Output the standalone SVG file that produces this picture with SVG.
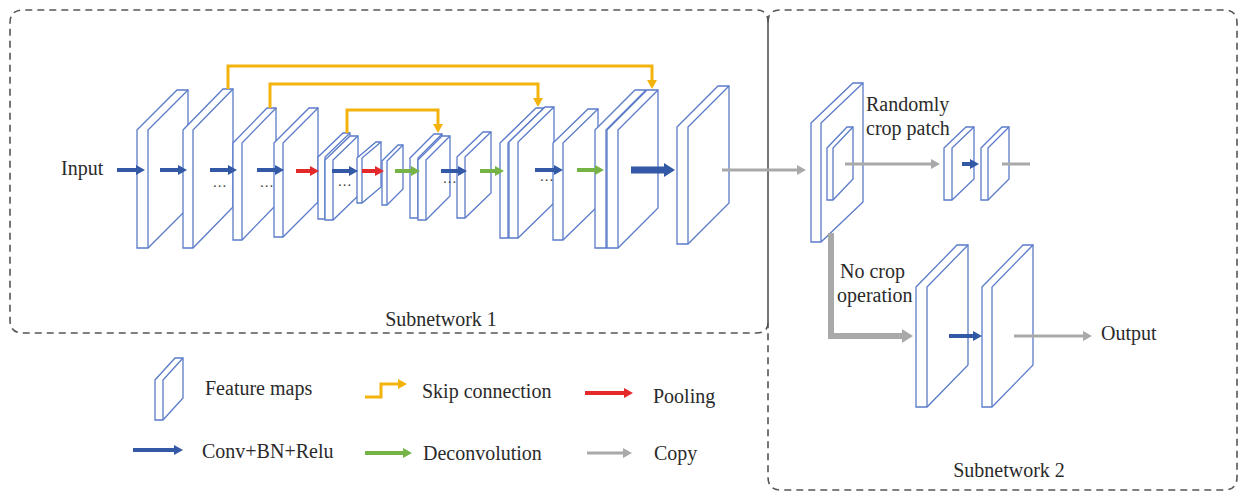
<svg xmlns="http://www.w3.org/2000/svg" width="1239" height="492" viewBox="0 0 1239 492">
  <style>
    .fm { fill: #ffffff; stroke: #5a7bc9; stroke-width: 1.3; stroke-linejoin: miter; }
    .fmi { fill: none; stroke: #5a7bc9; stroke-width: 1.3; }
    .box { fill: none; stroke: #555555; stroke-width: 1.6; stroke-dasharray: 7 5; }
    .edge { fill: none; stroke: #666666; stroke-width: 1.8; }
    .conv { fill: none; stroke: #3258a6; stroke-width: 4; marker-end: url(#hBlue); }
    .pool { fill: none; stroke: #e3292a; stroke-width: 4; marker-end: url(#hRed); }
    .deconv { fill: none; stroke: #76b347; stroke-width: 4; marker-end: url(#hGreen); }
    .copy { fill: none; stroke: #a9a9a9; stroke-width: 3; marker-end: url(#hGray); }
    .skip { fill: none; stroke: #f3b30c; stroke-width: 3; stroke-linejoin: miter; marker-end: url(#hGold); }
    .lbl { font-family: "Liberation Serif", "Times New Roman", serif; font-size: 20px; fill: #2a2a2a; }
    .dots { font-family: "Liberation Serif", serif; font-size: 15px; letter-spacing: 1px; fill: #444444; text-anchor: middle; }
  </style>
  <defs>
    <marker id="hBlue" markerUnits="userSpaceOnUse" markerWidth="10" markerHeight="10" refX="4" refY="5" orient="auto"><path d="M0,0 L9,5 L0,10 Z" fill="#3258a6"/></marker>
    <marker id="hBlueL" markerUnits="userSpaceOnUse" markerWidth="12" markerHeight="14" refX="4" refY="7" orient="auto"><path d="M0,0 L11,7 L0,14 Z" fill="#3258a6"/></marker>
    <marker id="hRed" markerUnits="userSpaceOnUse" markerWidth="10" markerHeight="10" refX="4" refY="5" orient="auto"><path d="M0,0 L9,5 L0,10 Z" fill="#e3292a"/></marker>
    <marker id="hGreen" markerUnits="userSpaceOnUse" markerWidth="10" markerHeight="10" refX="4" refY="5" orient="auto"><path d="M0,0 L9,5 L0,10 Z" fill="#76b347"/></marker>
    <marker id="hGray" markerUnits="userSpaceOnUse" markerWidth="10" markerHeight="10" refX="4" refY="5" orient="auto"><path d="M0,0 L9,5 L0,10 Z" fill="#a9a9a9"/></marker>
    <marker id="hGrayL" markerUnits="userSpaceOnUse" markerWidth="12" markerHeight="14" refX="4" refY="7" orient="auto"><path d="M0,0 L11,7 L0,14 Z" fill="#a9a9a9"/></marker>
    <marker id="hGold" markerUnits="userSpaceOnUse" markerWidth="10" markerHeight="10" refX="4" refY="5" orient="auto"><path d="M0,0 L9,5 L0,10 Z" fill="#f3b30c"/></marker>
  </defs>

  <rect width="1239" height="492" fill="#ffffff"/>

  <!-- frames of the two sub-networks -->
  <g id="frames">
    <path class="box" d="M768,323 Q768,333 756,333 H23 Q10,333 10,320 V23 Q10,10 23,10 H756 Q768,10 768,22"/>
    <path class="box" d="M768,22 Q768,10 780,10 H1224 Q1237,10 1237,23 V477 Q1237,490 1224,490 H781 Q768,490 768,477 V323"/>
    <path class="edge" d="M768,22 V323"/>
    <text class="lbl" x="441" y="326" text-anchor="middle">Subnetwork 1</text>
    <text class="lbl" x="1009" y="477" text-anchor="middle">Subnetwork 2</text>
  </g>

  <!-- feature maps of subnetwork 1 -->
  <g id="fm-a"><path class="fm" d="M137,130 L177,90 H188 V208 L148,248 H137 Z"/><path class="fmi" d="M148,248 V130 L188,90"/></g>
  <g id="fm-b"><path class="fm" d="M183,130 L223,89 H233 V207 L193,248 H183 Z"/><path class="fmi" d="M193,248 V130 L233,89"/></g>
  <g id="fm-c"><path class="fm" d="M233,143 L267,108 H276 V205 L242,240 H233 Z"/><path class="fmi" d="M242,240 V143 L276,108"/></g>
  <g id="fm-d"><path class="fm" d="M274,143 L309,108 H318 V202 L283,237 H274 Z"/><path class="fmi" d="M283,237 V143 L318,108"/></g>
  <g id="fm-e">
    <path class="fm" d="M318,157 L343,133 H350 V195 L325,219 H318 Z"/><path class="fmi" d="M325,219 V157 L350,133"/>
    <path class="fm" d="M325,160 L350,136 H358 V196 L333,220 H325 Z"/><path class="fmi" d="M333,220 V160 L358,136"/>
  </g>
  <g id="fm-f"><path class="fm" d="M357,158 L376,142 H381 V187 L362,203 H357 Z"/><path class="fmi" d="M362,203 V158 L381,142"/></g>
  <g id="fm-g"><path class="fm" d="M382,161 L398,145 H403 V189 L387,205 H382 Z"/><path class="fmi" d="M387,205 V161 L403,145"/></g>
  <g id="fm-h">
    <path class="fm" d="M410,158 L434,134 H442 V194 L418,218 H410 Z"/><path class="fmi" d="M418,218 V158 L442,134"/>
    <path class="fm" d="M418,160 L442,136 H450 V196 L426,220 H418 Z"/><path class="fmi" d="M426,220 V160 L450,136"/>
  </g>
  <g id="fm-i"><path class="fm" d="M457,157 L483,132 H491 V193 L465,218 H457 Z"/><path class="fmi" d="M465,218 V157 L491,132"/></g>
  <g id="fm-j">
    <path class="fm" d="M500,143 L536,108 H544 V203 L508,238 H500 Z"/><path class="fmi" d="M508,238 V143 L544,108"/>
    <path class="fm" d="M509,142 L545,107 H554 V203 L518,238 H509 Z"/><path class="fmi" d="M518,238 V142 L554,107"/>
  </g>
  <g id="fm-k"><path class="fm" d="M553,143 L588,109 H598 V206 L563,240 H553 Z"/><path class="fmi" d="M563,240 V143 L598,109"/></g>
  <g id="fm-l">
    <path class="fm" d="M595,130 L635,90 H646 V208 L606,248 H595 Z"/><path class="fmi" d="M606,248 V130 L646,90"/>
    <path class="fm" d="M607,130 L647,90 H658 V208 L618,248 H607 Z"/><path class="fmi" d="M618,248 V130 L658,90"/>
  </g>
  <g id="fm-m"><path class="fm" d="M677,127 L718,86 H729 V203 L688,244 H677 Z"/><path class="fmi" d="M688,244 V127 L729,86"/></g>

  <!-- feature maps of subnetwork 2 -->
  <g id="fm-n">
    <path class="fm" d="M811,123 L853,83 H863 V202 L821,242 H811 Z"/><path class="fmi" d="M821,242 V123 L863,83"/>
    <path class="fm" d="M827,148 L847,127 H853 V179 L833,200 H827 Z"/><path class="fmi" d="M833,200 V148 L853,127"/>
  </g>
  <g id="fm-o"><path class="fm" d="M944,148 L966,127 H974 V179 L952,200 H944 Z"/><path class="fmi" d="M952,200 V148 L974,127"/></g>
  <g id="fm-p"><path class="fm" d="M981,148 L1002,127 H1009 V179 L988,200 H981 Z"/><path class="fmi" d="M988,200 V148 L1009,127"/></g>
  <g id="fm-q"><path class="fm" d="M916,287 L957,245 H968 V365 L927,407 H916 Z"/><path class="fmi" d="M927,407 V287 L968,245"/></g>
  <g id="fm-r"><path class="fm" d="M982,287 L1023,245 H1033 V365 L992,407 H982 Z"/><path class="fmi" d="M992,407 V287 L1033,245"/></g>

  <!-- connectors -->
  <g id="connectors">
    <path class="conv" d="M117,170 H140"/>
    <path class="conv" d="M160,170 H182"/>
    <path class="conv" d="M210,170 H232"/>
    <path class="conv" d="M257,170 H279"/>
    <path class="pool" d="M296,171 H314"/>
    <path class="conv" d="M332,171 H353"/>
    <path class="pool" d="M362,171 H379"/>
    <path class="deconv" d="M395,171 H415"/>
    <path class="conv" d="M441,171 H462"/>
    <path class="deconv" d="M480,171 H499"/>
    <path class="conv" d="M535,170 H558"/>
    <path class="deconv" d="M577,170 H599"/>
    <path d="M631,170 H668" fill="none" stroke="#3258a6" stroke-width="7" marker-end="url(#hBlueL)"/>
    <path class="copy" d="M722,170 H801"/>

    <path class="skip" d="M228,89 V66 H652 V84"/>
    <path class="skip" d="M270,108 V84 H538 V102"/>
    <path class="skip" d="M347,133 V110 H438 V128"/>

    <path class="copy" d="M845,164 H935"/>
    <path class="conv" d="M962,164 H974" stroke-width="3"/>
    <path d="M1002,164 H1030" fill="none" stroke="#a9a9a9" stroke-width="3"/>
    <path d="M831,233 V336 H906" fill="none" stroke="#a9a9a9" stroke-width="6" stroke-linejoin="miter" marker-end="url(#hGrayL)"/>
    <path class="conv" d="M949,336 H977"/>
    <path class="copy" d="M1014,336 H1087"/>
  </g>

  <!-- labels -->
  <g id="labels">
    <text class="lbl" x="61" y="175">Input</text>
    <text class="dots" x="220" y="187">...</text>
    <text class="dots" x="267" y="187">...</text>
    <text class="dots" x="345" y="186">...</text>
    <text class="dots" x="450" y="183">...</text>
    <text class="dots" x="547" y="181">...</text>
    <text class="lbl" x="866" y="111">Randomly</text>
    <text class="lbl" x="866" y="135">crop patch</text>
    <text class="lbl" x="840" y="278">No crop</text>
    <text class="lbl" x="837" y="302">operation</text>
    <text class="lbl" x="1101" y="340">Output</text>
  </g>

  <!-- legend -->
  <g id="legend">
    <g id="legend-fm"><path class="fm" d="M155,380 L175,358 H183 V398 L163,420 H155 Z"/><path class="fmi" d="M163,420 V380 L183,358"/></g>
    <text class="lbl" x="205" y="395">Feature maps</text>
    <path class="skip" d="M365,397 H381 V384 H402"/>
    <text class="lbl" x="422" y="398">Skip connection</text>
    <path class="pool" d="M585,393 H628"/>
    <text class="lbl" x="653" y="403">Pooling</text>
    <path class="conv" d="M133,450 H178"/>
    <text class="lbl" x="202" y="458">Conv+BN+Relu</text>
    <path class="deconv" d="M365,453 H407"/>
    <text class="lbl" x="423" y="460">Deconvolution</text>
    <path class="copy" d="M587,453 H627"/>
    <text class="lbl" x="654" y="460">Copy</text>
  </g>
</svg>
